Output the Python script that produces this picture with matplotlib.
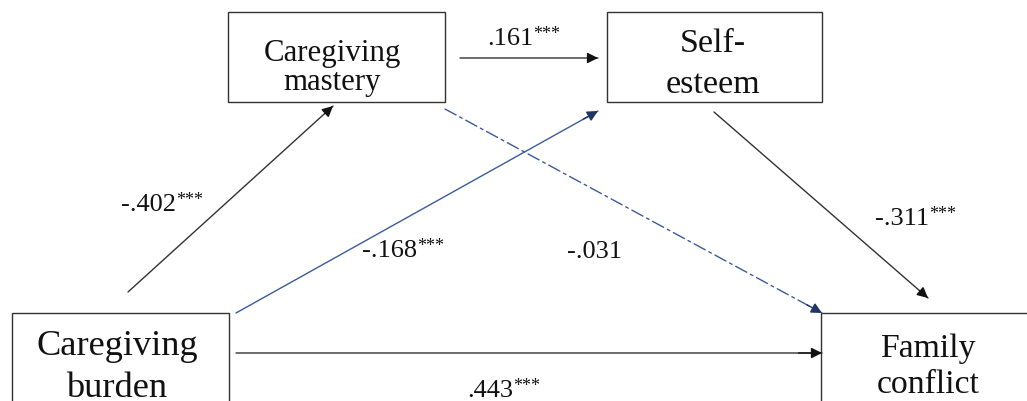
import matplotlib.pyplot as plt
from matplotlib.patches import Rectangle

plt.rcParams['font.family'] = ['Liberation Serif', 'DejaVu Serif']

# nodes: box (x0, y0, x1, y1) in pixel space (y down), text lines with baselines
node_boxes = [(228, 12, 445, 102), (607, 12, 822, 102), (12, 313, 229, 420), (821, 313, 1040, 420)]
node_lines = [["Caregiving", "mastery"], ["Self-", "esteem"], ["Caregiving", "burden"], ["Family", "conflict"]]
node_center_x = [332, 713, 117, 928]
node_baselines = [(61, 90), (52, 93), (355, 397), (357, 393)]
node_sizes = [22.2, 24.5, 26.2, 24.3]

# paths: start, end, coefficient, stars, label position (center x, baseline), style
path_from = [(460, 58), (128, 292), (236, 313), (445, 109), (714, 112), (236, 353)]
path_to = [(598, 58), (333, 106), (598, 111), (822, 313), (928, 298), (822, 353)]
path_coef = [".161", "-.402", "-.168", "-.031", "-.311", ".443"]
path_stars = ["***", "***", "***", "", "***", "***"]
path_label_xy = [(510, 45), (149, 211), (390, 257), (595, 258), (902, 225), (490, 397)]
path_blue = [False, False, True, True, False, False]
path_dashed = [False, False, False, True, False, False]

fig = plt.figure(figsize=(10.27, 4.01), dpi=100)
ax = fig.add_axes([0, 0, 1, 1])
ax.set_xlim(0, 1027)
ax.set_ylim(401, 0)
ax.axis('off')

for (x0, y0, x1, y1), lines, cx, bases, fs in zip(node_boxes, node_lines, node_center_x,
                                                   node_baselines, node_sizes):
    ax.add_patch(Rectangle((x0, y0), x1 - x0, y1 - y0, fill=False, edgecolor='#333333', linewidth=1.0))
    for line, by in zip(lines, bases):
        ax.text(cx, by, line, ha='center', va='baseline', fontsize=fs, color='#111111')

for p0, p1, coef, stars, (lx, ly), blue, dashed in zip(path_from, path_to, path_coef, path_stars,
                                                       path_label_xy, path_blue, path_dashed):
    col = '#3A5C99' if blue else '#333333'
    head = '#1F3566' if blue else '#111111'
    ls = (0, (9, 3, 2, 3)) if dashed else '-'
    ax.annotate('', xy=p1, xytext=p0,
                arrowprops=dict(arrowstyle='-', color=col, lw=1.0, linestyle=ls,
                                shrinkA=0, shrinkB=0))
    ax.annotate('', xy=p1, xytext=(p1[0] - (p1[0] - p0[0]) * 0.04, p1[1] - (p1[1] - p0[1]) * 0.04),
                arrowprops=dict(arrowstyle='-|>', color=head, lw=1.0, mutation_scale=16,
                                shrinkA=0, shrinkB=0))
    t = ax.text(lx, ly, coef, ha='center', va='baseline', fontsize=19, color='#111111')
    if stars:
        ax.annotate(stars, xy=(1, ly - 6), xycoords=(t, 'data'), ha='left', va='baseline',
                    fontsize=13, color='#111111')

fig.savefig('out.png', dpi=100)
plt.close(fig)
